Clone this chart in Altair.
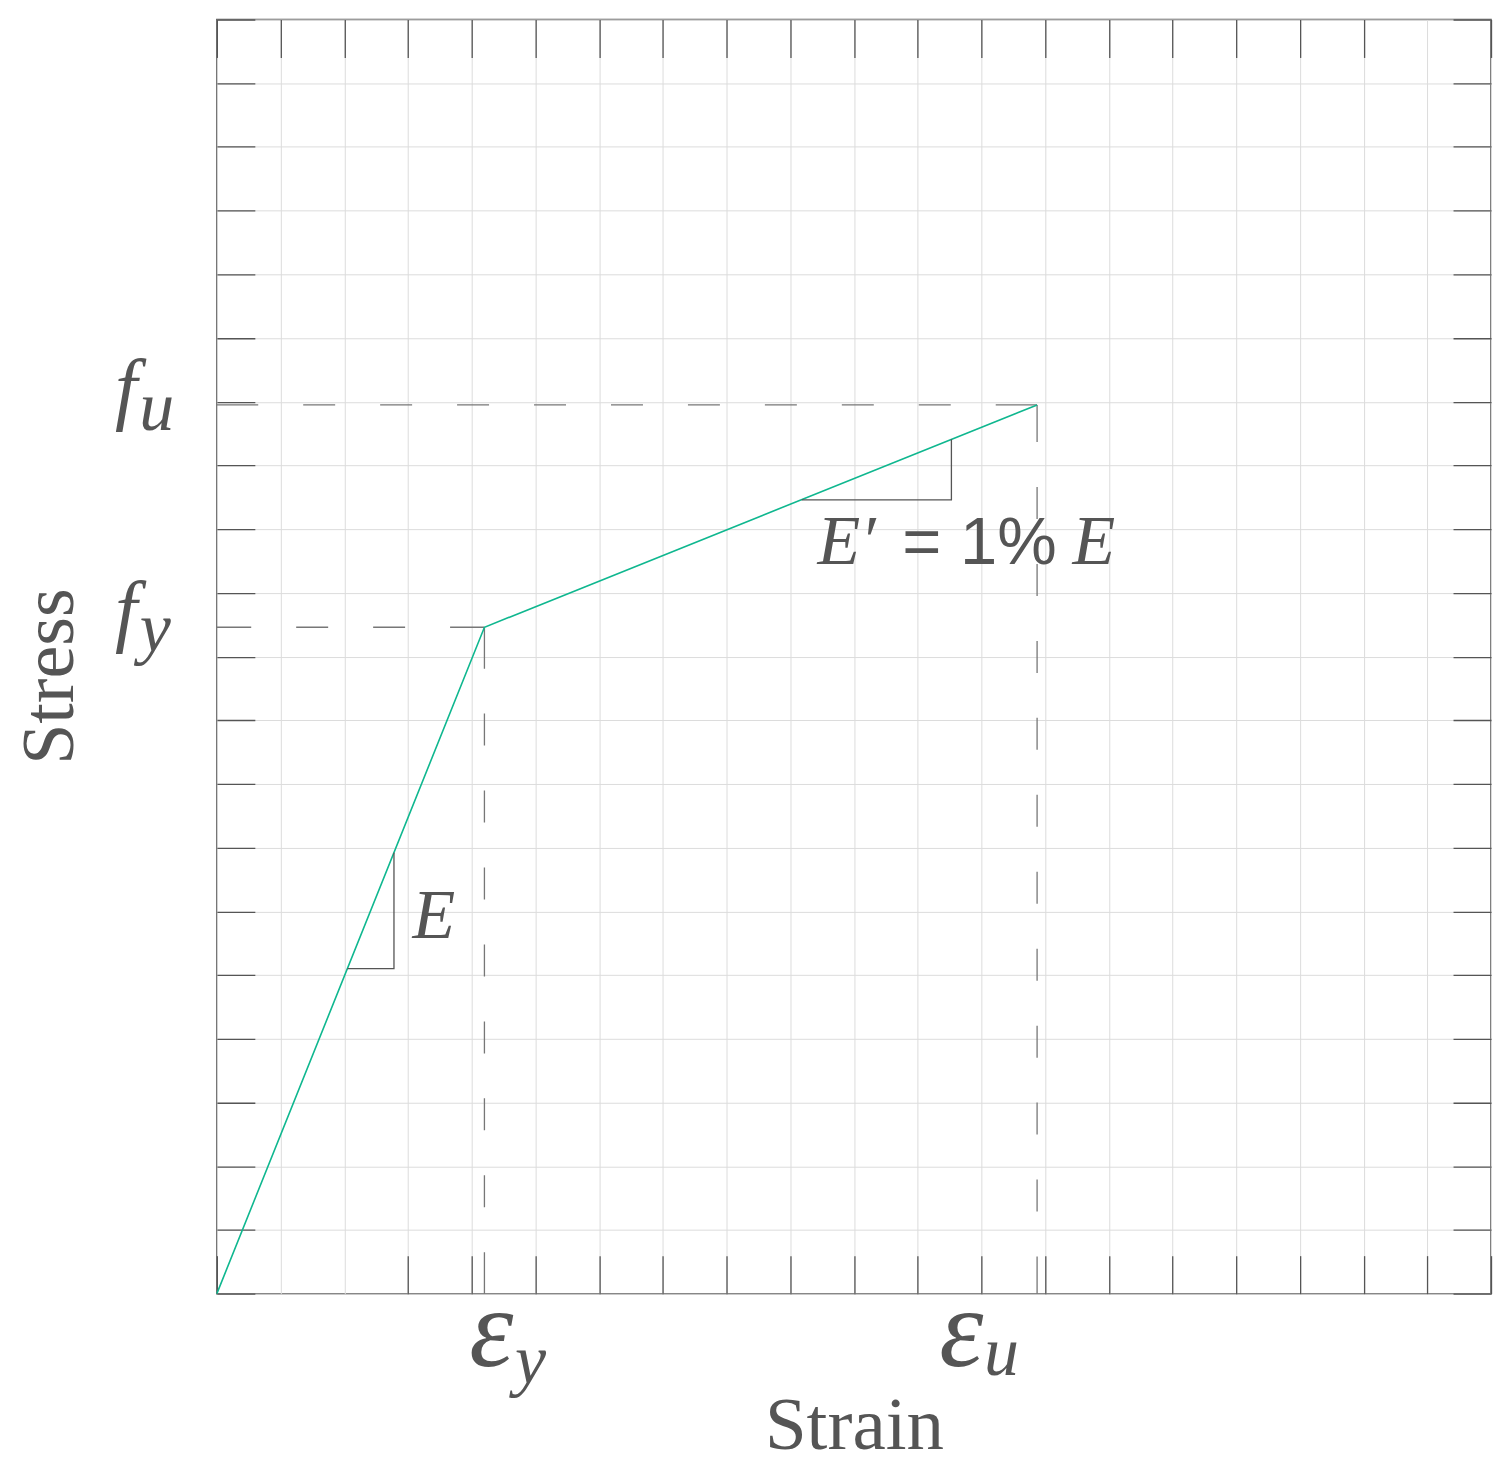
import altair as alt
import pandas as pd

# ---- data -------------------------------------------------------------
strain = [0.0, 4.2, 12.875]          # origin, yield, ultimate
stress = [0.0, 10.46, 13.95]

grid_values = list(range(21))
bottom_tick_values = [0] + list(range(3, 21))
top_tick_values = list(range(0, 19)) + [20]
side_tick_values = list(range(21))

tri_E_x = [2.05, 2.78, 2.78]
tri_E_y = [5.10, 5.10, 6.92]
tri_Ep_x = [9.18, 11.53, 11.53]
tri_Ep_y = [12.46, 12.46, 13.41]

serif_text = ["f", "u", "f", "y", "ε", "y", "ε", "u", "E", "E′", "E"]
serif_x = [-1.60, -1.22, -1.60, -1.21, 3.96, 4.68, 11.34, 12.04, 3.07, 9.43, 13.43]
serif_y = [13.79, 13.55, 10.31, 10.09, -1.13, -1.40, -1.13, -1.27, 5.58, 11.45, 11.45]
serif_role = ["main", "sub", "main", "sub", "eps", "sub", "eps", "sub", "ann", "ann", "ann"]

sans_text = ["= 1%"]
sans_x = [10.76]
sans_y = [11.45]

# ---- style ------------------------------------------------------------
INK = "#555555"
DASH = "#777777"
GRID = "#dcdcdc"
GREEN = "#0fb78f"
SERIF = "Liberation Serif"
SANS = "Liberation Sans"
PX = 1275 / 20.0  # pixels per unit (for dash patterns)
role_size = {"main": 80, "sub": 70, "eps": 112, "ann": 70}

xs = alt.Scale(domain=[0, 20], nice=False, zero=False)
ys = alt.Scale(domain=[0, 20], nice=False, zero=False)


def centered_dash(length_units):
    L = length_units * PX
    n = max(0, round((L - 45 - 76) / 77))
    e = (L - 45 - 77 * n) / 2.0
    arr = [e]
    for _ in range(n):
        arr += [45, 32]
    arr += [45, e]
    return arr


df_curve = pd.DataFrame({"strain": strain, "stress": stress, "idx": list(range(len(strain)))})

# dashed guide lines
guides = []
xy, fy = strain[1], stress[1]
xu, fu = strain[2], stress[2]
for (x0, x1, y0, y1) in [(0, xy, fy, fy), (0, xu, fu, fu), (xy, xy, 0, fy), (xu, xu, 0, fu)]:
    d = pd.DataFrame({"x0": [x0], "x1": [x1], "y0": [y0], "y1": [y1]})
    length = abs(x1 - x0) + abs(y1 - y0)
    guides.append(
        alt.Chart(d).mark_rule(color=DASH, strokeWidth=1.3, strokeDash=centered_dash(length)).encode(
            x=alt.X("x0:Q", scale=xs, axis=None),
            x2="x1:Q",
            y=alt.Y("y0:Q", scale=ys, axis=None),
            y2="y1:Q",
        )
    )

curve = alt.Chart(df_curve).mark_line(color=GREEN, strokeWidth=1.6).encode(
    x=alt.X("strain:Q", scale=xs, axis=alt.Axis(
        orient="bottom", values=grid_values, grid=True, gridColor=GRID, gridWidth=1,
        ticks=False, labels=False, domain=False, title="Strain",
        titleFont=SERIF, titleFontSize=75, titleFontWeight="normal", titleColor=INK,
        titleBaseline="alphabetic", titleY=155)),
    y=alt.Y("stress:Q", scale=ys, axis=alt.Axis(
        orient="left", values=grid_values, grid=True, gridColor=GRID, gridWidth=1,
        ticks=False, labels=False, domain=False, title="Stress",
        titleFont=SERIF, titleFontSize=74, titleFontWeight="normal", titleColor=INK,
        titleAngle=270, titleAlign="center", titleBaseline="alphabetic",
        titleX=-144, titleY=657)),
    order="idx:O",
)


def tick_axis(orient, values):
    return alt.Axis(orient=orient, values=values, offset=-38, tickSize=38, ticks=True,
                    tickColor=INK, tickWidth=1.3, grid=False, labels=False,
                    domain=False, title="")


ticks_bl = alt.Chart(df_curve).mark_point(opacity=0).encode(
    x=alt.X("strain:Q", scale=xs, axis=tick_axis("bottom", bottom_tick_values)),
    y=alt.Y("stress:Q", scale=ys, axis=tick_axis("left", side_tick_values)),
)
ticks_tr = alt.Chart(df_curve).mark_point(opacity=0).encode(
    x=alt.X("strain:Q", scale=xs, axis=tick_axis("top", top_tick_values)),
    y=alt.Y("stress:Q", scale=ys, axis=tick_axis("right", side_tick_values)),
)

tri_layers = []
for tx, ty in [(tri_E_x, tri_E_y), (tri_Ep_x, tri_Ep_y)]:
    d = pd.DataFrame({"x": tx, "y": ty, "i": list(range(len(tx)))})
    tri_layers.append(
        alt.Chart(d).mark_line(color=INK, strokeWidth=1.3).encode(
            x=alt.X("x:Q", scale=xs, axis=None),
            y=alt.Y("y:Q", scale=ys, axis=None),
            order="i:O",
        )
    )

df_serif = pd.DataFrame({"t": serif_text, "x": serif_x, "y": serif_y,
                         "s": [role_size[r] for r in serif_role]})
serif_labels = alt.Chart(df_serif).mark_text(
    font=SERIF, fontStyle="italic", color=INK, align="left", baseline="alphabetic"
).encode(
    x=alt.X("x:Q", scale=xs, axis=None),
    y=alt.Y("y:Q", scale=ys, axis=None),
    text="t:N",
    size=alt.Size("s:Q", scale=None, legend=None),
)

df_sans = pd.DataFrame({"t": sans_text, "x": sans_x, "y": sans_y})
sans_labels = alt.Chart(df_sans).mark_text(
    font=SANS, fontSize=67, color=INK, align="left", baseline="alphabetic"
).encode(
    x=alt.X("x:Q", scale=xs, axis=None),
    y=alt.Y("y:Q", scale=ys, axis=None),
    text="t:N",
)

chart = alt.layer(
    *guides, curve, ticks_bl, ticks_tr, *tri_layers, serif_labels, sans_labels
).resolve_axis(x="independent", y="independent").properties(
    width=1275, height=1275,
    autosize=alt.AutoSizeParams(type="none"),
    padding={"left": 209, "top": 11, "right": 8, "bottom": 172},
).configure_view(stroke=INK, strokeWidth=1.5)

chart.save("out.html", embed_options={"renderer": "svg", "actions": False})
